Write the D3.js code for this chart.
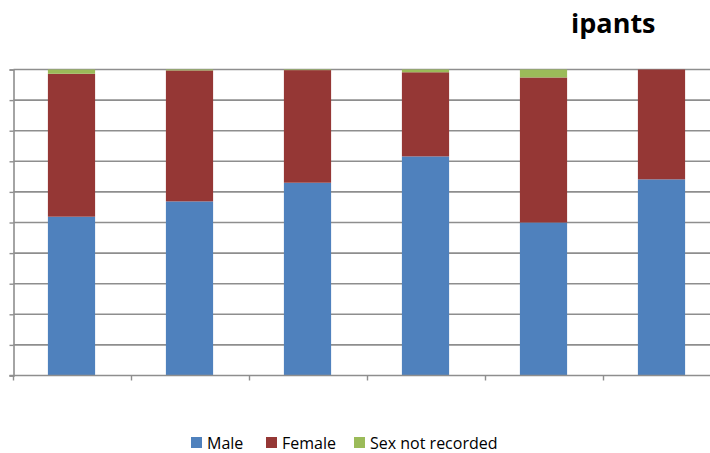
<!DOCTYPE html>
<html>
<head>
<meta charset="utf-8">
<script src="https://cdn.jsdelivr.net/npm/d3@7/dist/d3.min.js"></script>
<style>
  html, body { margin: 0; padding: 0; background: #fff; }
  svg { display: block; }
</style>
</head>
<body>
<script>
// Share of participants by sex, per group (percent of each group)
const categories = ["1", "2", "3", "4", "5", "6"];
const seriesNames = ["Male", "Female", "Sex not recorded"];
const male = [51.9, 56.9, 63.0, 71.6, 50.0, 64.1];
const female = [46.7, 42.8, 36.8, 27.5, 47.4, 35.9];
const notRecorded = [1.4, 0.3, 0.2, 0.9, 2.6, 0.0];
const yTicks = [0, 10, 20, 30, 40, 50, 60, 70, 80, 90, 100];
const colors = ["#4F81BD", "#953735", "#9BBB59"];

const W = 710, H = 453;
const plot = { left: 13.5, right: 721.5, top: 69.5, bottom: 375.5 };

const svg = d3.select("body").append("svg")
  .attr("width", W).attr("height", H)
  .style("font-family", "'Open Sans', sans-serif");

svg.append("rect").attr("width", W).attr("height", H).attr("fill", "#fff");

const x = d3.scaleBand()
  .domain(categories)
  .range([plot.left - 1, plot.right - 1])
  .paddingInner(0.6)
  .paddingOuter(0.3);

const y = d3.scaleLinear().domain([0, 100]).range([plot.bottom, plot.top]);

// horizontal gridlines
svg.append("g")
  .selectAll("line")
  .data(yTicks.filter(t => t > 0))
  .join("line")
  .attr("x1", plot.left).attr("x2", plot.right)
  .attr("y1", d => y(d)).attr("y2", d => y(d))
  .attr("stroke", "#8e8e8e")
  .attr("stroke-width", 1.6);

// stacked bars
const rows = categories.map((c, i) => ({
  cat: c, Male: male[i], Female: female[i], "Sex not recorded": notRecorded[i]
}));
const stack = d3.stack().keys(seriesNames)(rows);

svg.append("g")
  .selectAll("g")
  .data(stack)
  .join("g")
  .attr("fill", (d, i) => colors[i])
  .selectAll("rect")
  .data(d => d)
  .join("rect")
  .attr("x", d => x(d.data.cat))
  .attr("width", x.bandwidth())
  .attr("y", d => y(d[1]))
  .attr("height", d => Math.max(0, y(d[0]) - y(d[1])));

// value axis (no labels)
const yAxis = d3.axisLeft(y).tickValues(yTicks).tickSize(4).tickFormat("");
const gy = svg.append("g").attr("transform", `translate(${plot.left},0)`).call(yAxis);
gy.select(".domain").attr("stroke", "#8e8e8e").attr("stroke-width", 1.6);
gy.selectAll(".tick line").attr("stroke", "#8e8e8e").attr("stroke-width", 1.4);

// category axis: line plus ticks between groups
const step = (plot.right - plot.left) / categories.length;
const boundaries = d3.range(categories.length + 1).map(i => plot.left + i * step);
const gx = svg.append("g");
gx.append("line")
  .attr("x1", plot.left - 4).attr("x2", plot.right)
  .attr("y1", plot.bottom).attr("y2", plot.bottom)
  .attr("stroke", "#8e8e8e").attr("stroke-width", 1.6);
gx.selectAll("line.tick")
  .data(boundaries)
  .join("line")
  .attr("class", "tick")
  .attr("x1", d => d).attr("x2", d => d)
  .attr("y1", plot.bottom).attr("y2", plot.bottom + 5)
  .attr("stroke", "#8e8e8e").attr("stroke-width", 1.4);

// title (partly outside the visible area)
svg.append("text")
  .attr("x", 571).attr("y", 33)
  .attr("font-size", 27).attr("font-weight", "bold")
  .attr("fill", "#000")
  .text("ipants");

// legend
const legendX = [191, 266, 354];
const lg = svg.append("g");
seriesNames.forEach((name, i) => {
  lg.append("rect")
    .attr("x", legendX[i]).attr("y", 437)
    .attr("width", 11).attr("height", 11)
    .attr("fill", colors[i]);
  lg.append("text")
    .attr("x", legendX[i] + 16).attr("y", 448.5)
    .attr("font-size", 16).attr("fill", "#000")
    .text(name);
});
</script>
</body>
</html>
